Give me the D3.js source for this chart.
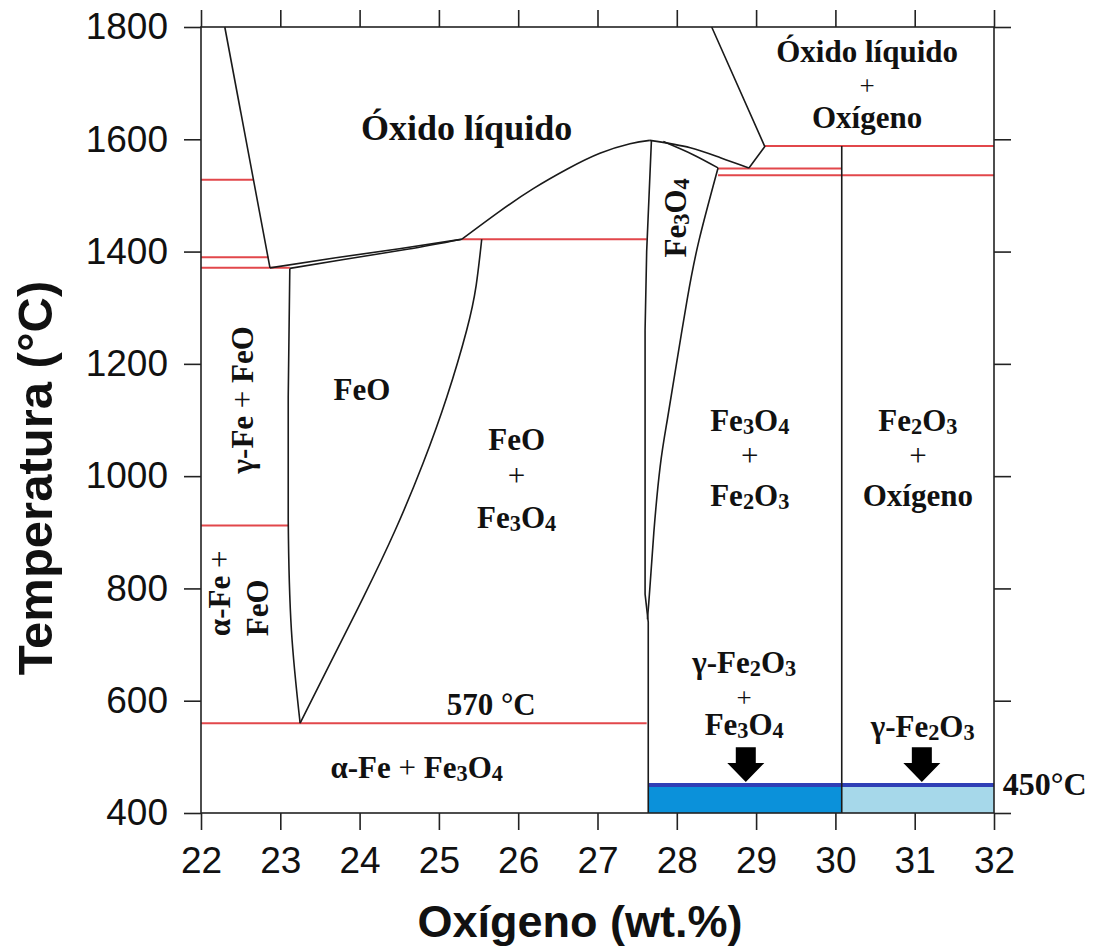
<!DOCTYPE html>
<html>
<head>
<meta charset="utf-8">
<script src="https://cdn.jsdelivr.net/npm/d3@7"></script>
<style>
  body { margin: 0; background: #fff; }
  text { fill: #111; }
</style>
</head>
<body>
<svg id="chart" width="1096" height="946"></svg>
<script>
// axes
const xTicks = d3.range(22, 33, 1);
const yTicks = d3.range(400, 1801, 200);

// phase boundaries, [wt.% O, T °C]
const liquidusFe = [[22.30, 1800], [22.87, 1371]];
const wustiteLiqUpper = [[22.87, 1371], [23.7, 1389], [24.5, 1405], [25.29, 1422]];
const wustiteLiqLower = [[23.12, 1370], [23.8, 1386], [24.6, 1404], [25.29, 1422]];
const liquidusOxide = [[25.29, 1422], [25.77, 1472], [26.19, 1512], [26.62, 1547], [27.03, 1575], [27.41, 1592], [27.66, 1598]];
const liquidusRight = [[27.66, 1598], [28.17, 1585], [28.55, 1567], [28.91, 1549]];
const liquidusO2 = [[28.91, 1549], [29.11, 1587], [28.44, 1800]];
const magnetiteSolidus = [[27.83, 1596], [28.2, 1573], [28.52, 1549]];
const magnetiteRight = [[28.52, 1549], [28.28, 1420], [28.13, 1314], [27.99, 1195], [27.88, 1100], [27.79, 1017], [27.71, 899], [27.66, 800], [27.63, 745]];
const magnetiteLeft = [[27.68, 1598], [27.62, 1400], [27.60, 1260], [27.60, 790], [27.64, 740], [27.64, 400]];
const wustiteLeft = [[23.12, 1370], [23.10, 1141], [23.10, 922], [23.14, 726], [23.25, 560]];
const wustiteRight = [[23.25, 560], [23.63, 667], [24.05, 785], [24.45, 904], [24.80, 1023], [25.10, 1141], [25.35, 1260], [25.47, 1340], [25.54, 1422]];
const hematiteLine = [[30.08, 1588], [30.08, 400]];

// isotherms: [T, from wt, to wt]
const isotherms = [
  [1528, 22, 22.66], [1390, 22, 22.85], [1371, 22, 23.12], [1422, 25.29, 27.62],
  [912, 22, 23.10], [560, 22, 27.62], [1588, 29.11, 32], [1548, 28.52, 30.08], [1536, 28.52, 32]
];

// 450 °C bands: [from wt, to wt]
const bandDark = [27.64, 30.08];
const bandLight = [30.08, 32];
const bandT = [400, 450];
const arrowX = [28.87, 31.09];

// labels: [text, wt, T(baseline)]
const labels = [
  ["Óxido líquido", 30.40, 1738], ["Oxígeno", 30.40, 1620],
  ["FeO", 24.03, 1136],
  ["FeO", 25.98, 1047], ["Fe_3O_4", 25.98, 908],
  ["Fe_3O_4", 28.92, 1080], ["Fe_2O_3", 28.92, 947],
  ["Fe_2O_3", 31.04, 1080], ["Oxígeno", 31.04, 947],
  ["γ-Fe_2O_3", 28.85, 649], ["Fe_3O_4", 28.85, 539],
  ["γ-Fe_2O_3", 31.10, 536],
  ["570 °C", 25.66, 575],
  ["α-Fe + Fe_3O_4", 24.72, 462]
];
// "+" between stacked lines: [wt, T(baseline), tight spacing]
const plusSigns = [[30.40, 1679, 1], [25.98, 982, 0], [28.92, 1018, 0], [31.04, 1018, 0], [28.85, 588, 1]];
const rotatedLabels = [
  ["Fe_3O_4", 28.12, 1460, "middle"],
  ["γ-Fe + FeO", 22.66, 1136, "middle"],
  ["α-Fe +", 22.37, 715, "start"],
  ["FeO", 22.84, 715, "start"]
];

const svg = d3.select('#chart');
const x = d3.scaleLinear().domain([22, 32]).range([201, 994]);
const y = d3.scaleLinear().domain([400, 1800]).range([813, 27]);
const serif = '"Liberation Serif", "Times New Roman", serif';
const sans = '"Liberation Sans", Arial, Helvetica, sans-serif';

// blue bands
svg.append('rect')
  .attr('x', x(bandDark[0])).attr('y', y(bandT[1]))
  .attr('width', x(bandDark[1]) - x(bandDark[0])).attr('height', y(bandT[0]) - y(bandT[1]))
  .attr('fill', '#0b91da');
svg.append('rect')
  .attr('x', x(bandLight[0])).attr('y', y(bandT[1]))
  .attr('width', x(bandLight[1]) - x(bandLight[0])).attr('height', y(bandT[0]) - y(bandT[1]))
  .attr('fill', '#a6d8ea');
svg.append('line')
  .attr('x1', x(bandDark[0])).attr('x2', x(bandLight[1]))
  .attr('y1', y(bandT[1])).attr('y2', y(bandT[1]))
  .attr('stroke', '#2f3fb6').attr('stroke-width', 4);

// red isotherms
svg.append('g').selectAll('line')
  .data(isotherms)
  .enter().append('line')
  .attr('x1', d => x(d[1])).attr('x2', d => x(d[2]))
  .attr('y1', d => y(d[0])).attr('y2', d => y(d[0]))
  .attr('stroke', '#e2474b').attr('stroke-width', 2);

// boundaries
const smooth = d3.line().x(d => x(d[0])).y(d => y(d[1])).curve(d3.curveNatural);
const straight = d3.line().x(d => x(d[0])).y(d => y(d[1]));
const curves = [wustiteLiqUpper, wustiteLiqLower, liquidusOxide, liquidusRight, magnetiteSolidus,
  magnetiteRight, wustiteLeft, wustiteRight];
const segs = [liquidusFe, liquidusO2, hematiteLine, magnetiteLeft];
const bg = svg.append('g').attr('fill', 'none').attr('stroke', '#1a1a1a').attr('stroke-width', 1.6)
  .attr('stroke-linejoin', 'round');
bg.selectAll('path.c').data(curves).enter().append('path').attr('class', 'c').attr('d', smooth);
bg.selectAll('path.s').data(segs).enter().append('path').attr('class', 's').attr('d', straight);

// arrows
const arrow = wt => {
  const cx = x(wt), top = y(517), base = y(489), tip = y(455);
  return `M${cx - 10},${top}H${cx + 10}V${base}H${cx + 18.5}L${cx},${tip}L${cx - 18.5},${base}H${cx - 10}Z`;
};
svg.append('g').selectAll('path').data(arrowX).enter().append('path')
  .attr('d', arrow).attr('fill', '#000');

// frame + axes
svg.append('rect').attr('x', x(22)).attr('y', y(1800))
  .attr('width', x(32) - x(22)).attr('height', y(400) - y(1800))
  .attr('fill', 'none').attr('stroke', '#222').attr('stroke-width', 1.6);

const styleAxis = g => {
  g.select('.domain').remove();
  g.selectAll('line').attr('stroke', '#222').attr('stroke-width', 1.6);
  g.selectAll('text').attr('font-family', sans).attr('font-size', 37).attr('fill', '#1a1a1a');
};
svg.append('g').attr('transform', `translate(0,${y(400)})`)
  .call(d3.axisBottom(x).tickValues(xTicks).tickFormat(d3.format('d')).tickSize(17).tickPadding(17))
  .call(styleAxis);
svg.append('g').attr('transform', `translate(${x(22)},0)`)
  .call(d3.axisLeft(y).tickValues(yTicks).tickFormat(d3.format('d')).tickSize(17).tickPadding(16))
  .call(styleAxis);
svg.append('g').attr('transform', `translate(0,${y(1800)})`)
  .call(d3.axisTop(x).tickValues(xTicks).tickFormat('').tickSize(17))
  .call(styleAxis);
svg.append('g').attr('transform', `translate(${x(32)},0)`)
  .call(d3.axisRight(y).tickValues(yTicks).tickFormat('').tickSize(17))
  .call(styleAxis);

// axis titles
svg.append('text').attr('x', 580).attr('y', 937)
  .attr('text-anchor', 'middle').attr('font-family', sans).attr('font-weight', 'bold')
  .attr('font-size', 45).text('Oxígeno (wt.%)');
svg.append('text').attr('transform', 'translate(52,478) rotate(-90)')
  .attr('text-anchor', 'middle').attr('font-family', sans).attr('font-weight', 'bold')
  .attr('font-size', 49).text('Temperatura (°C)');

// rich text: digits after "_" become subscripts, "+" in normal weight
function rich(t, str) {
  let shift = 0;
  str.split(/(_\d|\+)/).filter(s => s !== '').forEach(s => {
    const sp = t.append('tspan');
    if (s[0] === '_') {
      sp.attr('font-size', '72%').attr('dy', 3 - shift).text(s.slice(1));
      shift = 3;
    } else {
      sp.attr('dy', -shift).text(s);
      shift = 0;
      if (s === '+') sp.attr('font-weight', 'normal');
    }
  });
}

svg.append('text').attr('x', x(25.35)).attr('y', y(1599))
  .attr('text-anchor', 'middle').attr('font-family', serif).attr('font-weight', 'bold')
  .attr('font-size', 36).text('Óxido líquido');

svg.append('g').selectAll('text').data(labels).enter().append('text')
  .attr('x', d => x(d[1])).attr('y', d => y(d[2]))
  .attr('text-anchor', 'middle').attr('font-family', serif).attr('font-weight', 'bold')
  .attr('font-size', 31)
  .each(function (d) { rich(d3.select(this), d[0]); });

svg.append('g').selectAll('text').data(plusSigns).enter().append('text')
  .attr('x', d => x(d[0])).attr('y', d => y(d[1]))
  .attr('text-anchor', 'middle').attr('font-family', serif)
  .attr('font-size', d => d[2] ? 27 : 31).text('+');

svg.append('g').selectAll('text').data(rotatedLabels).enter().append('text')
  .attr('transform', d => `translate(${x(d[1])},${y(d[2])}) rotate(-90)`)
  .attr('text-anchor', d => d[3]).attr('font-family', serif).attr('font-weight', 'bold')
  .attr('font-size', 31)
  .each(function (d) { rich(d3.select(this), d[0]); });

svg.append('text').attr('x', x(32.11)).attr('y', y(432))
  .attr('font-family', serif).attr('font-weight', 'bold').attr('font-size', 32).text('450°C');
</script>
</body>
</html>
